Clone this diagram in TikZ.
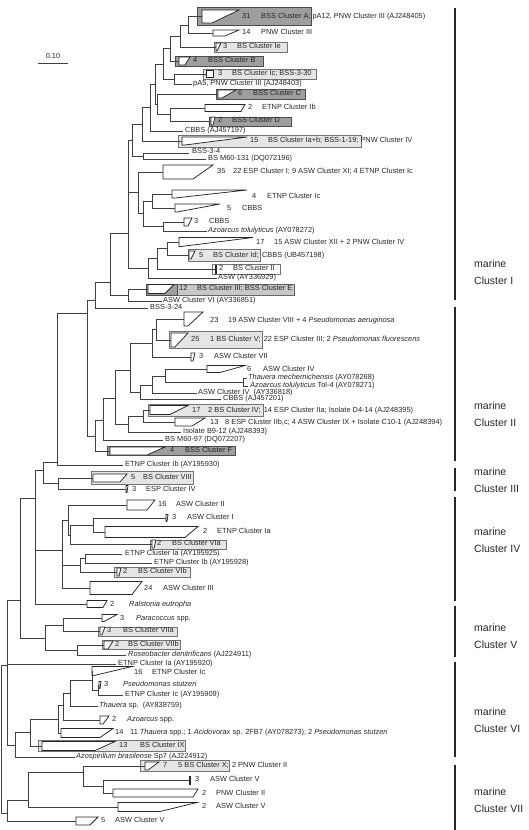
\documentclass[tikz,border=0pt]{standalone}
\usepackage{fontspec}
\setmainfont{Liberation Sans}

% collapsed clade: name, x of left edge, y of middle, x of top corner, x of bottom corner, half height
\newcommand{\clade}[6]{%
  \draw[cladetri] (#2,#3-#6) -- (#4,#3-#6) -- (#5,#3+#6) -- (#2,#3+#6) -- cycle;
  \coordinate (#1) at (#2,#3);}

\begin{document}
\begin{tikzpicture}[
    x=1pt, y=-1pt,
    branch/.style={draw=black!75, line width=0.75pt},
    cladetri/.style={draw=black!85, fill=white, line width=0.75pt},
    darkbox/.style={draw=black!70, fill=black!38, line width=0.6pt},
    midbox/.style={draw=black!60, fill=black!22, line width=0.6pt},
    lightbox/.style={draw=black!55, fill=black!10, line width=0.6pt},
    openbox/.style={draw=black!55, fill=white, line width=0.6pt},
    lbl/.style={anchor=west, inner sep=0pt, text height=5.4pt, text depth=1.5pt, font=\fontsize{7.4}{8.5}\selectfont, text=black!85},
    grp/.style={anchor=west, inner sep=0pt, align=left, font=\fontsize{10.5}{17}\selectfont, text=black!85},
    bracket/.style={draw=black!85, line width=1.1pt}
]
\useasboundingbox (0,0) rectangle (528,830);

% shaded boxes
\draw[darkbox] (197,7) rectangle (311,25);
\draw[lightbox] (214,42) rectangle (287,52);
\draw[darkbox] (175,56) rectangle (263,66);
\draw[lightbox] (203,69) rectangle (316,79);
\draw[darkbox] (216,89) rectangle (305,99);
\draw[darkbox] (209,117) rectangle (291,126);
\draw[lightbox] (178,135) rectangle (361,147);
\draw[lightbox] (188,249) rectangle (260,261);
\draw[openbox] (212,264) rectangle (280,274);
\draw[midbox] (146,284) rectangle (294,295);
\draw[darkbox] (146,284) rectangle (177,295);
\draw[lightbox] (169,331) rectangle (262,348);
\draw[lightbox] (148,404) rectangle (263,416);
\draw[darkbox] (107,446) rectangle (235,455);
\draw[lightbox] (91,471) rectangle (193,484);
\draw[lightbox] (150,540) rectangle (226,549);
\draw[lightbox] (114,567) rectangle (190,577);
\draw[lightbox] (98,627) rectangle (177,636);
\draw[lightbox] (102,640) rectangle (180,649);
\draw[lightbox] (38,740) rectangle (185,751);
\draw[lightbox] (140,760) rectangle (229,771);

% collapsed clades
\clade{cA}{202}{16.5}{239}{212}{6.5}
\clade{cPNW3}{213}{33}{239}{225}{3}
\clade{cIe}{216}{47}{221}{217}{4}
\clade{cB}{179}{61}{190}{185}{4}
\clade{cIc}{206}{74}{213}{213}{3.5}
\clade{cC}{218}{94}{236}{222}{4}
\clade{cIb}{205}{108}{245}{241}{3.5}
\clade{cD}{211}{121}{215}{213}{4}
\clade{cIab}{182}{141}{247}{185}{4}
\clade{cESP35}{163}{172}{213}{193}{7}
\clade{cIc4}{172}{194}{247}{175}{4}
\clade{cCB5}{175}{208}{220}{177}{4}
\clade{cCB3}{184}{222}{192}{188}{4}
\clade{cXII}{179}{242}{253}{181}{4.5}
\clade{cId}{189}{255}{195}{191}{4}
\clade{cII}{215}{269}{216}{216}{4}
\clade{cIII}{148}{289}{174}{165}{4.5}
\clade{c23}{184}{319}{203}{188}{7}
\clade{c25}{171}{340}{188}{175}{7}
\clade{cVII}{191}{357}{195}{193}{4}
\clade{cIV6}{207}{369}{245}{220}{3.5}
\clade{cIV17}{150}{410}{188}{170}{4.5}
\clade{c13}{175}{422}{205}{192}{4}
\clade{cF}{110}{451}{165}{147}{4}
\clade{cVIII}{93}{478}{127}{120}{4}
\clade{cESP4}{126}{489}{128}{127}{3.5}
\clade{cII16}{127}{505}{155}{147}{5}
\clade{cI3}{166}{518}{168}{167}{3.5}
\clade{cIa2}{105}{532}{198}{185}{5.5}
\clade{cVIa}{152}{544}{156}{154}{4}
\clade{cVIb}{117}{572}{121}{119}{4}
\clade{cIII24}{90}{588}{142}{132}{6.5}
\clade{cRal}{87}{604}{107}{103}{3.5}
\clade{cPar}{102}{618}{117}{104}{3.5}
\clade{cVIIa}{100}{631}{105}{102}{4}
\clade{cVIIb}{104}{645}{113}{108}{4}
\clade{cIc16}{92}{671}{132}{94}{4.5}
\clade{cPst}{99}{685}{101}{100}{3.5}
\clade{cAzs}{100}{720}{109}{103}{4}
\clade{c14}{61}{733}{113}{100}{4.5}
\clade{cIX}{42}{746}{115}{95}{4.5}
\clade{cX7}{145}{766}{159}{148}{4}
\clade{cV3}{189}{780}{190}{190}{4}
\clade{cPNW2}{113}{793}{198}{193}{4}
\clade{cV2}{118}{807}{197}{160}{4.5}
\clade{cV5}{76}{821}{98}{90}{4}

% single sequences (branch tips)
\coordinate (lpA5) at (192,84);
\coordinate (lCBBS1) at (183,131);
\coordinate (lB34) at (189,153);
\coordinate (lM131) at (206,159);
\coordinate (lAzo1) at (207,231);
\coordinate (lASW929) at (217,278);
\coordinate (lASW6) at (162,301);
\coordinate (lB324) at (148,308);
\coordinate (lThm) at (247,378);
\coordinate (lAzT) at (248,386);
\coordinate (lASW818) at (197,393);
\coordinate (lCB201) at (221,399);
\coordinate (lB912) at (181,432);
\coordinate (lM97) at (163,440);
\coordinate (lIb930) at (123,465);
\coordinate (lIa925) at (122,554);
\coordinate (lIb928) at (152,563);
\coordinate (lRos) at (126,655);
\coordinate (lIa920) at (116,664);
\coordinate (lIc909) at (123,695);
\coordinate (lTh) at (98,706);
\coordinate (lAzsp) at (75,757);

% inner nodes
\coordinate (a1) at (188,25);
\coordinate (a2) at (180,36);
\coordinate (a3) at (170,48);
\coordinate (a4) at (174,79);
\coordinate (a5) at (163,64);
\coordinate (a6) at (170,114);
\coordinate (a7) at (157,104);
\coordinate (a8) at (155,84);
\coordinate (a9) at (150,107);
\coordinate (a10) at (142,124);
\coordinate (a11) at (143,156);
\coordinate (a12) at (132,140);
\coordinate (b1) at (152,201);
\coordinate (b2) at (163,226);
\coordinate (b3) at (143,213);
\coordinate (b4) at (138,192);
\coordinate (c1) at (167,248);
\coordinate (c2) at (157,258);
\coordinate (c3) at (148,268);
\coordinate (d1) at (128,233);
\coordinate (e0) at (128,295);
\coordinate (e1) at (110,282);
\coordinate (e2) at (95,300);
\coordinate (g1) at (156,329);
\coordinate (g2) at (152,343);
\coordinate (g3b) at (243,382);
\coordinate (g3) at (165,376);
\coordinate (g4) at (152,385);
\coordinate (g5) at (140,392);
\coordinate (g6) at (130,370);
\coordinate (g7a) at (143,416);
\coordinate (g7b) at (128,424);
\coordinate (g8) at (115,398);
\coordinate (g9) at (103,420);
\coordinate (g10) at (95,436);
\coordinate (g11) at (87,313);
\coordinate (h1) at (57,462);
\coordinate (h2) at (58,483);
\coordinate (h3) at (43,470);
\coordinate (o1) at (93,525);
\coordinate (o2) at (70,535);
\coordinate (o3) at (68,520);
\coordinate (p1) at (85,558);
\coordinate (p2) at (80,565);
\coordinate (q1) at (62,550);
\coordinate (r0) at (35,498);
\coordinate (n1) at (63,625);
\coordinate (n2) at (77,650);
\coordinate (n3) at (45,638);
\coordinate (r1) at (20,600);
\coordinate (s1) at (7,665);
\coordinate (m1) at (98,690);
\coordinate (m2) at (92,680);
\coordinate (m3) at (70,693);
\coordinate (m4) at (63,705);
\coordinate (m5) at (58,719);
\coordinate (m6) at (30,732);
\coordinate (m7) at (15,745);
\coordinate (k2) at (103,786);
\coordinate (k1) at (83,772);
\coordinate (k3) at (28,800);
\coordinate (k4) at (7,813);
\coordinate (root) at (1,740);

\foreach \p/\c in {a1/cA, a1/cPNW3, a2/a1, a2/cIe, a3/a2, a3/cB, a4/cIc, a4/lpA5,
    a5/a3, a5/a4, a6/cIb, a6/cD, a7/cC, a7/a6, a8/a5, a8/a7, a9/a8, a9/lCBBS1,
    a10/a9, a10/cIab, a11/lB34, a11/lM131, a12/a10, a12/a11,
    b1/cIc4, b1/cCB5, b2/cCB3, b2/lAzo1, b3/b1, b3/b2, b4/cESP35, b4/b3,
    c1/cXII, c1/cId, c2/c1, c2/cII, c3/c2, c3/lASW929, d1/a12, d1/b4, d1/c3,
    e0/cIII, e0/lASW6, e1/d1, e1/e0, e2/e1, e2/lB324,
    g1/c23, g1/c25, g2/g1, g2/cVII, g3b/lThm, g3b/lAzT, g3/cIV6, g3/g3b,
    g4/g3, g4/lASW818, g5/g4, g5/lCB201, g6/g2, g6/g5, g7a/cIV17, g7a/c13,
    g7b/g7a, g7b/lB912, g8/g6, g8/g7b, g9/g8, g9/lM97, g10/g9, g10/cF,
    g11/e2, g11/g10, h1/g11, h1/lIb930, h2/cVIII, h2/cESP4, h3/h1, h3/h2,
    o1/cI3, o1/cIa2, o2/o1, o2/cVIa, o3/cII16, o3/o2, p1/lIa925, p1/lIb928,
    p2/p1, p2/cVIb, q1/o3, q1/p2, q1/cIII24, r0/h3, r0/q1, r0/cRal,
    n1/cPar, n1/cVIIa, n2/cVIIb, n2/lRos, n3/n1, n3/n2,
    r1/r0, r1/n3, s1/r1, s1/lIa920, s1/m7,
    m1/cPst, m1/lIc909, m2/cIc16, m2/m1, m3/m2, m3/lTh, m4/m3, m4/cAzs,
    m5/m4, m5/c14, m6/m5, m6/cIX, m7/m6, m7/lAzsp,
    k2/cV3, k2/cPNW2, k1/cX7, k1/k2, k3/k1, k3/cV2, k4/k3, k4/cV5,
    root/s1, root/k4}
  \draw[branch] (\p) |- (\c);

% labels
\node[lbl] (cA-n) at (242,16.5) {31};
\node[lbl] (cA-t) at (261,16.5) {BSS Cluster A; pA12, PNW Cluster III (AJ248405)};
\node[lbl] (cPNW3-n) at (242,33) {14};
\node[lbl] (cPNW3-t) at (261,33) {PNW Cluster III};
\node[lbl] (cIe-n) at (223,47) {3};
\node[lbl] (cIe-t) at (237,47) {BS Cluster Ie};
\node[lbl] (cB-n) at (193,61) {4};
\node[lbl] (cB-t) at (208,61) {BSS Cluster B};
\node[lbl] (cIc-n) at (218,74) {3};
\node[lbl] (cIc-t) at (232,74) {BS Cluster Ic; BSS-3-30};
\node[lbl] (lpA5-t) at (193,84) {pA5, PNW Cluster III (AJ248403)};
\node[lbl] (cC-n) at (238,94) {6};
\node[lbl] (cC-t) at (253,94) {BSS Cluster C};
\node[lbl] (cIb-n) at (248,108) {2};
\node[lbl] (cIb-t) at (262,108) {ETNP Cluster Ib};
\node[lbl] (cD-n) at (218,121) {2};
\node[lbl] (cD-t) at (232,121) {BSS Cluster D};
\node[lbl] (lCBBS1-t) at (185,131) {CBBS (AJ457197)};
\node[lbl] (cIab-n) at (250,141) {15};
\node[lbl] (cIab-t) at (268,141) {BS Cluster Ia+b; BSS-1-19; PNW Cluster IV};
\node[lbl] (lB34-t) at (192,152) {BSS-3-4};
\node[lbl] (lM131-t) at (208,159) {BS M60-131 (DQ072196)};
\node[lbl] (cESP35-n) at (217,172) {35};
\node[lbl] (cESP35-t) at (233,172) {22 ESP Cluster I; 9 ASW Cluster XI; 4 ETNP Cluster Ic};
\node[lbl] (cIc4-n) at (252,197) {4};
\node[lbl] (cIc4-t) at (267,197) {ETNP Cluster Ic};
\node[lbl] (cCB5-n) at (227,209) {5};
\node[lbl] (cCB5-t) at (242,209) {CBBS};
\node[lbl] (cCB3-n) at (194,222) {3};
\node[lbl] (cCB3-t) at (209,222) {CBBS};
\node[lbl] (lAzo1-t) at (208,231) {\textit{Azoarcus tolulyticus} (AY078272)};
\node[lbl] (cXII-n) at (256,243) {17};
\node[lbl] (cXII-t) at (274,243) {15 ASW Cluster XII + 2 PNW Cluster IV};
\node[lbl] (cId-n) at (199,256) {5};
\node[lbl] (cId-t) at (213,256) {BS Cluster Id;\, CBBS (UB457198)};
\node[lbl] (cII-n) at (219,269) {2};
\node[lbl] (cII-t) at (233,269) {BS Cluster II};
\node[lbl] (lASW929-t) at (218,278) {ASW (AY336929)};
\node[lbl] (cIII-n) at (179,289) {12};
\node[lbl] (cIII-t) at (197,289) {BS Cluster III; BSS Cluster E};
\node[lbl] (lASW6-t) at (163,301) {ASW Cluster VI (AY336851)};
\node[lbl] (lB324-t) at (150,308) {BSS-3-24};
\node[lbl] (c23-n) at (210,321) {23};
\node[lbl] (c23-t) at (228,321) {19 ASW Cluster VIII + 4 \textit{Pseudomonas aeruginosa}};
\node[lbl] (c25-n) at (191,340) {25};
\node[lbl] (c25-t) at (210,340) {1 BS Cluster V;\, 22 ESP Cluster III; 2 \textit{Pseudomonas fluorescens}};
\node[lbl] (cVII-n) at (199,357) {3};
\node[lbl] (cVII-t) at (214,357) {ASW Cluster VII};
\node[lbl] (cIV6-n) at (247,370) {6};
\node[lbl] (cIV6-t) at (263,370) {ASW Cluster IV};
\node[lbl] (lThm-t) at (248,378) {\textit{Thauera mechernichensis} (AY078268)};
\node[lbl] (lAzT-t) at (250,386) {\textit{Azoarcus tolulyticus} Tol-4 (AY078271)};
\node[lbl] (lASW818-t) at (198,393) {ASW Cluster IV\ \ (AY336818)};
\node[lbl] (lCB201-t) at (223,399) {CBBS (AJ457201)};
\node[lbl] (cIV17-n) at (192,411) {17};
\node[lbl] (cIV17-t) at (208,411) {2 BS Cluster IV;\, 14 ESP Cluster IIa; Isolate D4-14 (AJ248395)};
\node[lbl] (c13-n) at (210,423) {13};
\node[lbl] (c13-t) at (225,423) {8 ESP Cluster IIb,c; 4 ASW Cluster IX + Isolate C10-1 (AJ248394)};
\node[lbl] (lB912-t) at (183,432) {Isolate B9-12 (AJ248393)};
\node[lbl] (lM97-t) at (165,440) {BS M60-97 (DQ072207)};
\node[lbl] (cF-n) at (170,451) {4};
\node[lbl] (cF-t) at (185,451) {BSS Cluster F};
\node[lbl] (lIb930-t) at (125,465) {ETNP Cluster Ib (AY195930)};
\node[lbl] (cVIII-n) at (131,478) {5};
\node[lbl] (cVIII-t) at (143,478) {BS Cluster VIII};
\node[lbl] (cESP4-n) at (132,490) {3};
\node[lbl] (cESP4-t) at (146,490) {ESP Cluster IV};
\node[lbl] (cII16-n) at (158,505) {16};
\node[lbl] (cII16-t) at (176,505) {ASW Cluster II};
\node[lbl] (cI3-n) at (172,518) {3};
\node[lbl] (cI3-t) at (187,518) {ASW Cluster I};
\node[lbl] (cIa2-n) at (203,532) {2};
\node[lbl] (cIa2-t) at (217,532) {ETNP Cluster Ia};
\node[lbl] (cVIa-n) at (157,544) {2};
\node[lbl] (cVIa-t) at (172,544) {BS Cluster VIa};
\node[lbl] (lIa925-t) at (125,554) {ETNP Cluster Ia (AY195925)};
\node[lbl] (lIb928-t) at (154,563) {ETNP Cluster Ib (AY195928)};
\node[lbl] (cVIb-n) at (123,572) {2};
\node[lbl] (cVIb-t) at (138,572) {BS Cluster VIb};
\node[lbl] (cIII24-n) at (144,589) {24};
\node[lbl] (cIII24-t) at (163,589) {ASW Cluster III};
\node[lbl] (cRal-n) at (110,605) {2};
\node[lbl] (cRal-t) at (129,605) {\textit{Ralstonia eutropha}};
\node[lbl] (cPar-n) at (120,619) {3};
\node[lbl] (cPar-t) at (136,619) {\textit{Paracoccus} spp.};
\node[lbl] (cVIIa-n) at (107,631) {3};
\node[lbl] (cVIIa-t) at (123,631) {BS Cluster VIIa};
\node[lbl] (cVIIb-n) at (115,645) {2};
\node[lbl] (cVIIb-t) at (128,645) {BS Cluster VIIb};
\node[lbl] (lRos-t) at (128,655) {\textit{Roseobacter denitrificans} (AJ224911)};
\node[lbl] (lIa920-t) at (118,664) {ETNP Cluster Ia (AY195920)};
\node[lbl] (cIc16-n) at (134,673) {16};
\node[lbl] (cIc16-t) at (152,673) {ETNP Cluster Ic};
\node[lbl] (cPst-n) at (104,685) {3};
\node[lbl] (cPst-t) at (123,685) {\textit{Pseudomonas stutzeri}};
\node[lbl] (lIc909-t) at (125,695) {ETNP Cluster Ic (AY195909)};
\node[lbl] (lTh-t) at (99,706) {\textit{Thauera} sp.\ \ (AY838759)};
\node[lbl] (cAzs-n) at (112,720) {2};
\node[lbl] (cAzs-t) at (127,720) {\textit{Azoarcus} spp.};
\node[lbl] (c14-n) at (115,733) {14};
\node[lbl] (c14-t) at (130,733) {11 \textit{Thauera} spp.; 1 \textit{Acidovorax} sp. 2FB7 (AY078273); 2 \textit{Pseudomonas stutzeri}};
\node[lbl] (cIX-n) at (119,746) {13};
\node[lbl] (cIX-t) at (140,746) {BS Cluster IX};
\node[lbl] (lAzsp-t) at (76,757) {\textit{Azospirillum brasilense} Sp7 (AJ224912)};
\node[lbl] (cX7-n) at (163,766) {7};
\node[lbl] (cX7-t) at (178,766) {5 BS Cluster X;\, 2 PNW Cluster II};
\node[lbl] (cV3-n) at (195,780) {3};
\node[lbl] (cV3-t) at (210,780) {ASW Cluster V};
\node[lbl] (cPNW2-n) at (202,794) {2};
\node[lbl] (cPNW2-t) at (216,794) {PNW Cluster II};
\node[lbl] (cV2-n) at (202,807) {2};
\node[lbl] (cV2-t) at (216,807) {ASW Cluster V};
\node[lbl] (cV5-n) at (101,821) {5};
\node[lbl] (cV5-t) at (115,821) {ASW Cluster V};

% scale bar
\coordinate (sb-l) at (38,63);
\coordinate (sb-r) at (68,63);
\draw[branch] (sb-l) -- (sb-r);
\node[lbl, anchor=south] (sb-t) at (53,60) {0.10};

% marine cluster brackets
\coordinate (mI-a) at (455,8);     \coordinate (mI-b) at (455,300);
\coordinate (mII-a) at (455,307);  \coordinate (mII-b) at (455,461);
\coordinate (mIII-a) at (455,468); \coordinate (mIII-b) at (455,491);
\coordinate (mIV-a) at (455,497);  \coordinate (mIV-b) at (455,601);
\coordinate (mV-a) at (455,606);   \coordinate (mV-b) at (455,657);
\coordinate (mVI-a) at (455,662);  \coordinate (mVI-b) at (455,757);
\coordinate (mVII-a) at (455,765); \coordinate (mVII-b) at (455,830);
\foreach \g in {I,II,III,IV,V,VI,VII}
  \draw[bracket] (m\g-a) -- (m\g-b);
\node[grp] (mI) at (474,272) {marine\\Cluster I};
\node[grp] (mII) at (474,414) {marine\\Cluster II};
\node[grp] (mIII) at (474,480) {marine\\Cluster III};
\node[grp] (mIV) at (474,540) {marine\\Cluster IV};
\node[grp] (mV) at (474,636) {marine\\Cluster V};
\node[grp] (mVI) at (474,720) {marine\\Cluster VI};
\node[grp] (mVII) at (474,800) {marine\\Cluster VII};

\end{tikzpicture}
\end{document}
